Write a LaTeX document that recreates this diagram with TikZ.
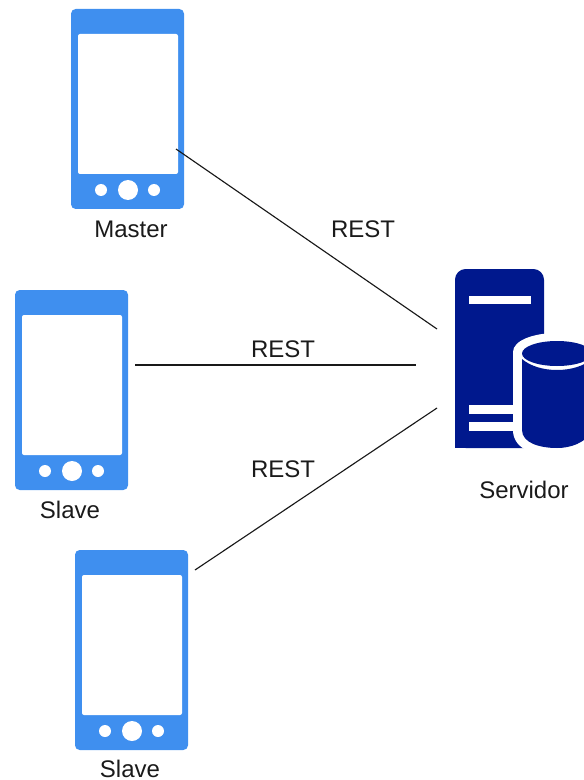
\documentclass[tikz,border=0pt]{standalone}
\usepackage{fontspec}
\setmainfont{Liberation Sans}
\definecolor{phoneblue}{HTML}{3F8FEF}
\definecolor{servblue}{HTML}{00188D}
\definecolor{txtgrey}{HTML}{1A1A1A}
\tikzset{
  lbl/.style={inner sep=0pt,text=txtgrey,font=\fontsize{18}{20}\selectfont},
  conn/.style={draw=black!90,line width=0.85pt},
  phonepic/.pic={
    \fill[phoneblue,rounded corners=3.5] (0,0) rectangle (113,200);
    \fill[white,rounded corners=1.5] (7,25) rectangle (107,165);
    \fill[white] (30,181) circle[radius=6];
    \fill[white] (57,181) circle[radius=10];
    \fill[white] (83,181) circle[radius=6];
  }
}
\begin{document}
\begin{tikzpicture}[x=0.75pt,y=-0.75pt]
\useasboundingbox (0,0) rectangle (584,780);
\path (71,9) pic {phonepic};
\path (15,290) pic {phonepic};
\path (75,550) pic {phonepic};
% server
\fill[servblue,rounded corners=8] (455,448) -- (455,269) -- (544,269) -- (544,448) -- cycle;
\fill[servblue] (455,430) rectangle (544,448);
\fill[white] (469,296) rectangle (531,304);
\fill[white] (469,405) rectangle (520,414);
\fill[white] (469,422) rectangle (520,431);
\begin{scope}
\clip (0,0) rectangle (584,780);
% white halo around the cylinder
\fill[white] (513,352) .. controls (513,341) and (532,333) .. (557,333)
  .. controls (582,333) and (601,341) .. (601,352) -- (601,456) -- (557,456)
  .. controls (530,456) and (513,447) .. (513,430) -- cycle;
% cylinder body
\fill[servblue] (522,359) .. controls (530,366) and (543,370) .. (557,370)
  .. controls (571,370) and (584,366) .. (592,359) -- (592,432)
  .. controls (584,443) and (571,448) .. (557,448)
  .. controls (540,448) and (522,443) .. (522,430) -- cycle;
% cylinder top
\fill[servblue] (557,353.5) ellipse[x radius=35,y radius=12.5];
\end{scope}
% labels
\node[lbl] (master) at (131,229.5) {Master};
\node[lbl] (slaveA) at (70,510) {Slave};
\node[lbl] (slaveB) at (130,769) {Slave};
\node[lbl] (servidor) at (524,490) {Servidor};
\node[lbl] (restA) at (363,229.5) {REST};
\node[lbl] (restB) at (283,349.5) {REST};
\node[lbl] (restC) at (283,469.5) {REST};
% connectors
\coordinate (mOut) at (176,149);
\coordinate (sOutA) at (135,365);
\coordinate (sOutB) at (195,570);
\coordinate (srvA) at (437,329);
\coordinate (srvB) at (416,365);
\coordinate (srvC) at (437,408);
\draw[conn] (mOut) -- (srvA);
\draw[conn] (sOutA) -- (srvB);
\draw[conn] (sOutB) -- (srvC);
\end{tikzpicture}
\end{document}
